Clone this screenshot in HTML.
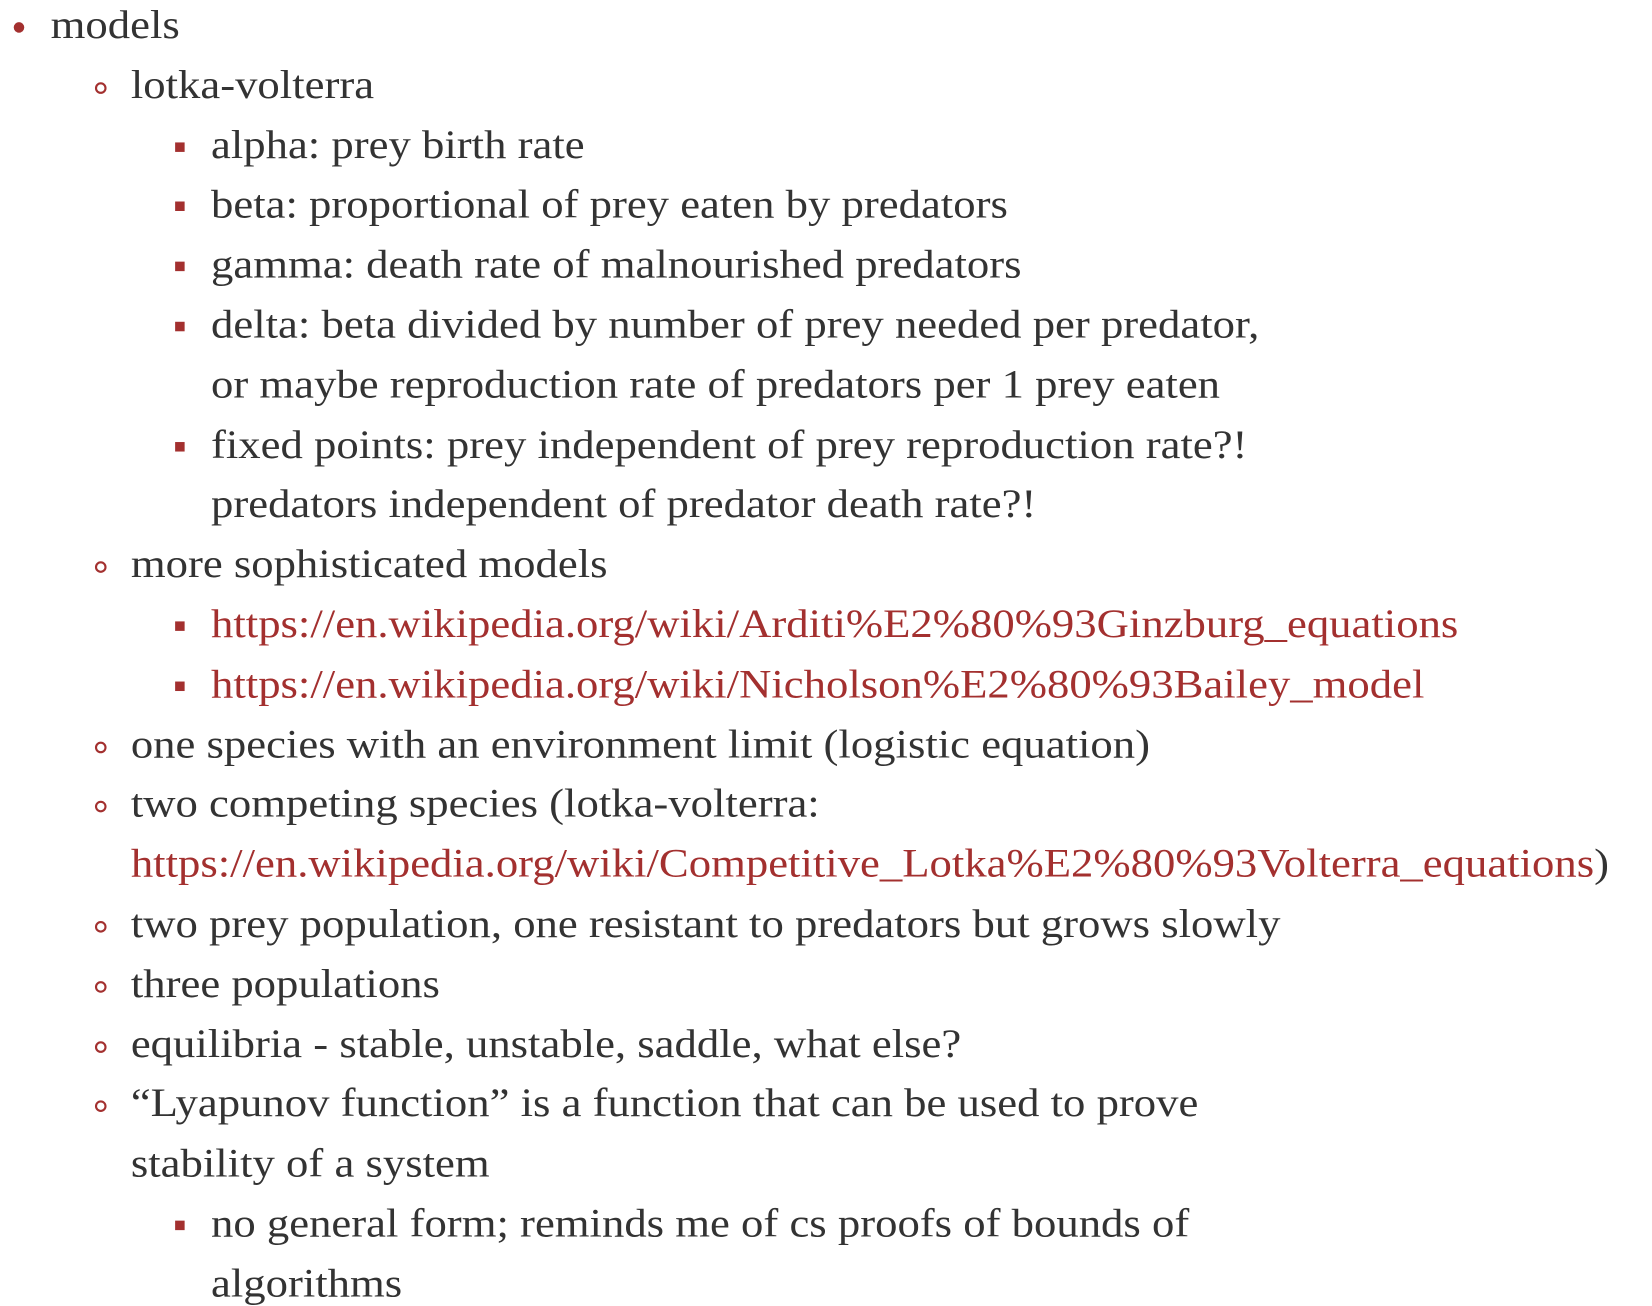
<!DOCTYPE html>
<html><head><meta charset="utf-8"><style>
html,body{margin:0;padding:0;background:#fff;width:1652px;height:1306px;overflow:hidden}
#wrap{position:absolute;left:0;top:0;width:1566px;height:1238px;transform:scale(1.055);transform-origin:0 0;font-family:"Liberation Serif",serif;color:#333;font-size:38px}
.l{position:absolute;white-space:nowrap;line-height:40px;transform:scaleX(1.115);transform-origin:0 0}
a{color:#a3302f;text-decoration:none}
.b{position:absolute}
.d1{width:10px;height:10px;border-radius:50%;background:#a3302f}
.d2{width:11px;height:11px;border-radius:50%;border:2px solid #a3302f;box-sizing:border-box}
.d3{width:9px;height:9px;background:#a3302f}
</style></head><body>
<div id="wrap"></div>
<script>
const items=[
[1,"models"],[2,"lotka-volterra"],[3,"alpha: prey birth rate"],[3,"beta: proportional of prey eaten by predators"],
[3,"gamma: death rate of malnourished predators"],[3,"delta: beta divided by number of prey needed per predator,"],
[0,"or maybe reproduction rate of predators per 1 prey eaten",3],[3,"fixed points: prey independent of prey reproduction rate?!"],
[0,"predators independent of predator death rate?!",3],[2,"more sophisticated models"],
[3,"<a href='#'>https://en.wikipedia.org/wiki/Arditi%E2%80%93Ginzburg_equations</a>"],
[3,"<a href='#'>https://en.wikipedia.org/wiki/Nicholson%E2%80%93Bailey_model</a>"],
[2,"one species with an environment limit (logistic equation)"],[2,"two competing species (lotka-volterra:"],
[0,"<a href='#'>https://en.wikipedia.org/wiki/Competitive_Lotka%E2%80%93Volterra_equations</a>)",2],
[2,"two prey population, one resistant to predators but grows slowly"],[2,"three populations"],
[2,"equilibria - stable, unstable, saddle, what else?"],[2,"\u201cLyapunov function\u201d is a function that can be used to prove"],
[0,"stability of a system",2],[3,"no general form; reminds me of cs proofs of bounds of"],[0,"algorithms",3]];
const textX=[0,48,124,200],bulX=[0,13,90,166];
const w=document.getElementById('wrap');
items.forEach((it,i)=>{
 const lvl=it[0]||it[2];const base=35+i*56.8;
 const d=document.createElement('div');d.className='l';
 
 
 d.style.left=textX[lvl]+'px';d.style.top=(base-31)+'px';d.innerHTML=it[1];w.appendChild(d);
 if(it[0]){const b=document.createElement('div');b.className='b d'+it[0];
 
 
 b.style.left=bulX[it[0]]+'px';b.style.top=(base-14)+'px';w.appendChild(b);}
});
</script>
</body></html>
